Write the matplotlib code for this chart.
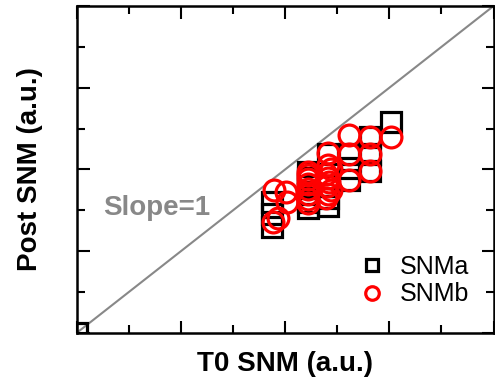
import matplotlib
matplotlib.use("Agg")
import matplotlib.pyplot as plt
from matplotlib.ticker import MultipleLocator

plt.rcParams['font.family'] = ['Liberation Sans', 'DejaVu Sans']

# T0 SNM vs Post SNM (arbitrary units)
snma_x = [0.0, 3.74, 3.74, 3.74, 4.43, 4.43, 4.43, 4.43, 4.43, 4.43,
          4.83, 4.83, 4.83, 4.83, 5.23, 5.23, 5.23, 5.62, 5.62, 5.62, 6.03]
snma_y = [0.0, 2.60, 2.90, 3.20, 3.06, 3.20, 3.40, 3.60, 3.80, 3.95,
          3.10, 3.30, 3.60, 4.39, 4.39, 4.03, 3.75, 4.80, 4.39, 3.97, 5.17]

snmb_x = [3.76, 3.86, 3.79, 4.02, 4.03, 4.43, 4.43, 4.43, 4.43, 4.43, 4.43,
          4.43, 4.43, 4.78, 4.83, 4.88, 4.80, 4.85, 4.83, 4.78, 4.88, 4.83,
          4.83, 5.23, 5.23, 5.23, 5.62, 5.62, 5.62, 6.03]
snmb_y = [2.72, 2.80, 3.50, 3.45, 3.21, 3.18, 3.28, 3.40, 3.52, 3.64, 3.76,
          3.86, 3.94, 3.30, 3.40, 3.50, 3.60, 3.70, 3.80, 3.90, 4.00, 4.10,
          4.41, 4.84, 4.39, 3.74, 4.80, 4.39, 3.97, 4.80]

fig = plt.figure(figsize=(4.95, 3.77), dpi=100)
ax = fig.add_axes([0.155, 0.117, 0.842, 0.867])

ax.plot([0, 8], [0, 8], color='#888888', lw=1.5, zorder=1)

ax.plot(snma_x, snma_y, ls='none', marker='s', ms=14, mfc='none',
        mec='black', mew=2.3, label='SNMa', zorder=2)
ax.plot(snmb_x, snmb_y, ls='none', marker='o', ms=15, mfc='none',
        mec='red', mew=2.3, label='SNMb', zorder=3)

ax.text(0.5, 2.88, 'Slope=1', color='#888888', fontsize=20,
        fontweight='bold')

ax.set_xlim(0, 8)
ax.set_ylim(0, 8)
ax.xaxis.set_major_locator(MultipleLocator(2))
ax.xaxis.set_minor_locator(MultipleLocator(1))
ax.yaxis.set_major_locator(MultipleLocator(2))
ax.yaxis.set_minor_locator(MultipleLocator(1))
ax.tick_params(which='both', direction='in', top=True, right=True,
               labelbottom=False, labelleft=False, width=1.5)
ax.tick_params(which='major', length=9)
ax.tick_params(which='minor', length=5.5)
for s in ax.spines.values():
    s.set_linewidth(1.8)

ax.set_xlabel('T0 SNM (a.u.)', fontsize=20, fontweight='bold', labelpad=13)
ax.set_ylabel('Post SNM (a.u.)', fontsize=20, fontweight='bold', labelpad=24)

ax.legend(loc='center', bbox_to_anchor=(0.81, 0.16), frameon=False,
          fontsize=18, markerscale=0.65, handlelength=1.0,
          handletextpad=0.65, labelspacing=0.15, borderpad=0)

fig.savefig('out.png', dpi=100)
